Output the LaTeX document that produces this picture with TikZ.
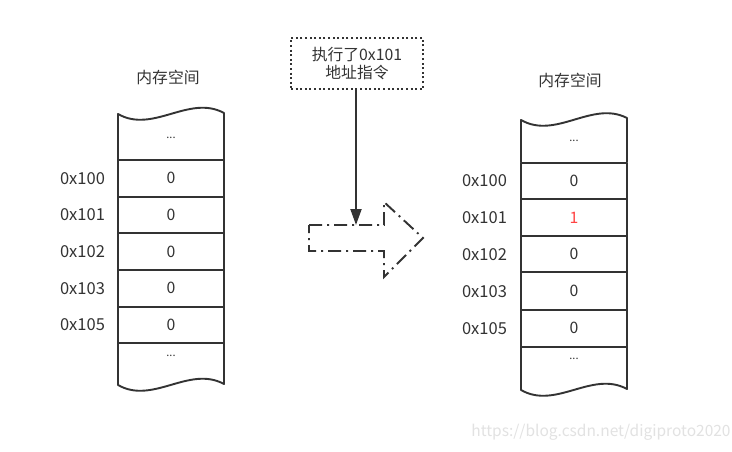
\documentclass[tikz,border=0pt]{standalone}
\usepackage{fontspec}
\setmainfont{Noto Sans CJK SC}
\usetikzlibrary{arrows.meta}
\definecolor{ink}{HTML}{333333}
\definecolor{redv}{HTML}{FF4444}
\definecolor{wm}{HTML}{E2E2E2}
\begin{document}
\begin{tikzpicture}[x=1pt,y=-1pt,
  every node/.style={text=ink,font=\fontsize{15.8}{18}\selectfont,inner sep=0pt},
  colline/.style={draw=ink,line width=1.9pt,line join=round},
  dots/.style={font=\fontsize{11}{13}\selectfont},
  addr/.style={anchor=center,font=\fontsize{16.5}{18}\selectfont}]
\useasboundingbox[fill=white] (0,0) rectangle (732,451);

% ---------- left column ----------
\node (ttl) at (168,77) {内存空间};
\draw[colline] (118,160) -- (118,114) .. controls (153,134) and (189,94) .. (224,113) -- (224,160);
\draw[colline] (118,342.7) -- (118,385) .. controls (153,405) and (189,365) .. (224,384) -- (224,342.7);
\node[dots] (ltop) at (171,138) {...};
\node[dots] (lbot) at (171,356) {...};
\foreach \t/\b/\a/\nm in {160/196.7/0x100/a, 196.7/233.3/0x101/b, 233.3/270/0x102/c, 270/306.7/0x103/d, 306.7/342.7/0x105/e}{
  \draw[colline] (118,\t) rectangle (224,\b);
  \node (l\nm) at (171,{(\t+\b)/2}) {0};
  \node[addr] (la\nm) at (82.5,{(\t+\b)/2}) {\a};
}

% ---------- right column ----------
\node (ttr) at (570,80) {内存空间};
\draw[colline] (521,162.7) -- (521,120) .. controls (556,140) and (592,100) .. (627,118) -- (627,162.7);
\draw[colline] (521,346.7) -- (521,390) .. controls (556,410) and (592,370) .. (627,389) -- (627,346.7);
\node[dots] (rtop) at (574,141) {...};
\node[dots] (rbot) at (574,359) {...};
\foreach \t/\b/\a/\v/\c/\nm in {162.7/199.3/0x100/0/ink/a, 199.3/236/0x101/1/redv/b, 236/272.3/0x102/0/ink/c, 272.3/310/0x103/0/ink/d, 310/346.7/0x105/0/ink/e}{
  \draw[colline] (521,\t) rectangle (627,\b);
  \node[text=\c] (r\nm) at (574,{(\t+\b)/2}) {\v};
  \node[addr] (ra\nm) at (484.5,{(\t+\b)/2}) {\a};
}

% ---------- instruction box ----------
\node[draw=ink,line width=2pt,dash pattern=on 2pt off 2.6pt,minimum width=132pt,minimum height=51pt,align=center] (ins) at (357,63.5) {执行了0x101\\[0pt]地址指令};
\coordinate (tipc) at (356,225);
\draw[ink,line width=1.9pt,-{Triangle[length=16pt,width=11pt]}] (ins.south -| tipc) -- (tipc);

% ---------- big dash-dot arrow ----------
\draw[draw=ink,line width=1.9pt,dash pattern=on 13pt off 5pt on 2pt off 5pt]
  (309,225) -- (384,225) -- (384,202) -- (423,238) -- (384,277) -- (384,251) -- (309,251) -- cycle;

% ---------- watermark ----------
\node[text=wm,font=\fontsize{15.5}{17}\selectfont] (wmk) at (601,432) {https://blog.csdn.net/digiproto2020};
\end{tikzpicture}
\end{document}
